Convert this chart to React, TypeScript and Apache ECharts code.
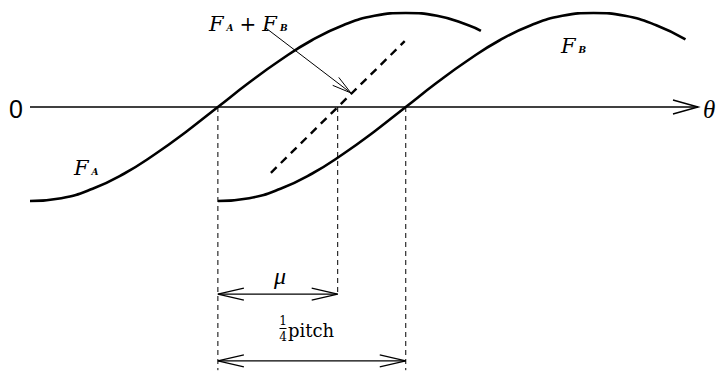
import React, { useEffect, useRef } from "react";
import * as echarts from "echarts";

// theta in degrees, force in units of amplitude
const thetaA = [-90, -75, -60, -45, -30, -15, 0, 15, 30, 45, 60, 75, 90, 105, 120, 126];
const forceA = [-1, -0.97, -0.87, -0.71, -0.5, -0.26, 0, 0.26, 0.5, 0.71, 0.87, 0.97, 1, 0.97, 0.87, 0.81];
const thetaB = [0, 15, 30, 45, 60, 75, 90, 105, 120, 135, 150, 165, 180, 195, 210, 224];
const forceB = [-1, -0.97, -0.87, -0.71, -0.5, -0.26, 0, 0.26, 0.5, 0.71, 0.87, 0.97, 1, 0.97, 0.87, 0.72];
const sumTheta = [25.4, 89.5];
const sumForce = [-0.7, 0.7];
const muTheta = 57.4;
const pitchTheta = 90;
// [x1, y1, x2, y2, heads]
const axisSeg = [[-90, 0, 230, 0, 1]];
const guideSegs = [
  [0, 0, 0, -2.8, 0],
  [muTheta, 0, muTheta, -2.01, 0],
  [pitchTheta, 0, pitchTheta, -2.8, 0],
];
const dimSegs = [
  [0, -1.99, muTheta, -1.99, 2],
  [0, -2.7, pitchTheta, -2.7, 2],
];
const pointerSeg = [[23, 0.84, 63.7, 0.15, 1]];

function makeRender(lineWidth: number, dash: number[] | null, L: number, W: number) {
  return (params: any, api: any) => {
    const p1 = api.coord([api.value(0), api.value(1)]);
    const p2 = api.coord([api.value(2), api.value(3)]);
    const heads = api.value(4);
    const style: any = { stroke: "#000", lineWidth, fill: null };
    if (dash) style.lineDash = dash;
    const children: any[] = [
      { type: "line", shape: { x1: p1[0], y1: p1[1], x2: p2[0], y2: p2[1] }, style },
    ];
    const dx = p2[0] - p1[0];
    const dy = p2[1] - p1[1];
    const len = Math.sqrt(dx * dx + dy * dy) || 1;
    const ux = dx / len, uy = dy / len;
    const px = -uy, py = ux;
    const head = (tip: number[], sx: number, sy: number) => ({
      type: "polyline",
      shape: {
        points: [
          [tip[0] - sx * L + px * W, tip[1] - sy * L + py * W],
          tip,
          [tip[0] - sx * L - px * W, tip[1] - sy * L - py * W],
        ],
      },
      style: { stroke: "#000", lineWidth, fill: null },
    });
    if (heads >= 1) children.push(head(p2, ux, uy));
    if (heads >= 2) children.push(head(p1, -ux, -uy));
    return { type: "group", children };
  };
}

const serif = "'Liberation Serif', 'DejaVu Serif', serif";
const wideSerif = "'DejaVu Serif', serif";

const richF = {
  f: { fontFamily: wideSerif, fontStyle: "italic", fontSize: 21, fill: "#000" },
  s: { fontFamily: wideSerif, fontStyle: "italic", fontWeight: "bold", fontSize: 9, fill: "#000", verticalAlign: "bottom", padding: [0, 0, 2, 3] },
  p: { fontFamily: wideSerif, fontSize: 20, fill: "#000", padding: [0, 6, 0, 6] },
};

function fLabel(sub: string, x: number, y: number) {
  return {
    type: "text",
    x,
    y,
    style: { text: `{f|F}{s|${sub}}`, rich: richF, verticalAlign: "middle" },
  };
}

export default function App() {
  const ref = useRef<HTMLDivElement>(null);
  useEffect(() => {
    if (!ref.current) return;
    const chart = echarts.init(ref.current, null, { renderer: "svg" });
    chart.setOption({
      animation: false,
      backgroundColor: "#fff",
      grid: { left: 30, right: 18, top: 3.6, bottom: 1.8 },
      xAxis: { type: "value", min: -90, max: 230, show: false },
      yAxis: { type: "value", min: -2.8, max: 1.1, show: false },
      series: [
        {
          type: "custom",
          renderItem: makeRender(1.5, null, 25, 7),
          data: axisSeg,
          encode: { x: [0, 2], y: [1, 3] },
          clip: false,
        },
        {
          type: "custom",
          renderItem: makeRender(1, [5, 4], 0, 0),
          data: guideSegs,
          encode: { x: [0, 2], y: [1, 3] },
          clip: false,
        },
        {
          type: "custom",
          renderItem: makeRender(1.2, null, 26, 6),
          data: dimSegs,
          encode: { x: [0, 2], y: [1, 3] },
          clip: false,
        },
        {
          type: "custom",
          renderItem: makeRender(1, null, 19, 5),
          data: pointerSeg,
          encode: { x: [0, 2], y: [1, 3] },
          clip: false,
        },
        {
          type: "line",
          name: "F_A",
          data: thetaA.map((t, i) => [t, forceA[i]]),
          smooth: true,
          showSymbol: false,
          lineStyle: { color: "#000", width: 2.6 },
          clip: false,
        },
        {
          type: "line",
          name: "F_B",
          data: thetaB.map((t, i) => [t, forceB[i]]),
          smooth: true,
          showSymbol: false,
          lineStyle: { color: "#000", width: 2.6 },
          clip: false,
        },
        {
          type: "line",
          name: "F_A + F_B",
          data: sumTheta.map((t, i) => [t, sumForce[i]]),
          showSymbol: false,
          lineStyle: { color: "#000", width: 2.4, type: [8, 6] },
          clip: false,
        },
      ],
      graphic: [
        {
          type: "text",
          x: 9,
          y: 109,
          style: { text: "0", fontFamily: "'Liberation Sans', sans-serif", fontSize: 25, fill: "#000", verticalAlign: "middle" },
        },
        {
          type: "text",
          x: 703,
          y: 109,
          style: { text: "θ", fontFamily: serif, fontStyle: "italic", fontSize: 25, fill: "#000", verticalAlign: "middle" },
        },
        {
          type: "text",
          x: 209,
          y: 24,
          style: {
            text: "{f|F}{s|A}{p|+}{f|F}{s|B}",
            rich: richF,
            verticalAlign: "middle",
          },
        },
        fLabel("A", 74, 168),
        fLabel("B", 561, 46),
        {
          type: "text",
          x: 274,
          y: 276,
          style: { text: "μ", fontFamily: serif, fontStyle: "italic", fontSize: 24, fill: "#000", verticalAlign: "middle" },
        },
        {
          type: "text",
          x: 283,
          y: 321,
          style: { text: "1", fontFamily: wideSerif, fontSize: 12, fill: "#000", align: "center", verticalAlign: "middle" },
        },
        {
          type: "line",
          shape: { x1: 279.5, y1: 328.5, x2: 286.5, y2: 328.5 },
          style: { stroke: "#000", lineWidth: 1 },
        },
        {
          type: "text",
          x: 283,
          y: 337,
          style: { text: "4", fontFamily: wideSerif, fontSize: 12, fill: "#000", align: "center", verticalAlign: "middle" },
        },
        {
          type: "text",
          x: 288,
          y: 330,
          style: { text: "pitch", fontFamily: wideSerif, fontSize: 18, fill: "#000", verticalAlign: "middle" },
        },
      ],
    });
    return () => chart.dispose();
  }, []);
  return (
    <div
      ref={ref}
      style={{ position: "fixed", left: 0, top: 0, width: 716, height: 372, background: "#fff" }}
    />
  );
}
